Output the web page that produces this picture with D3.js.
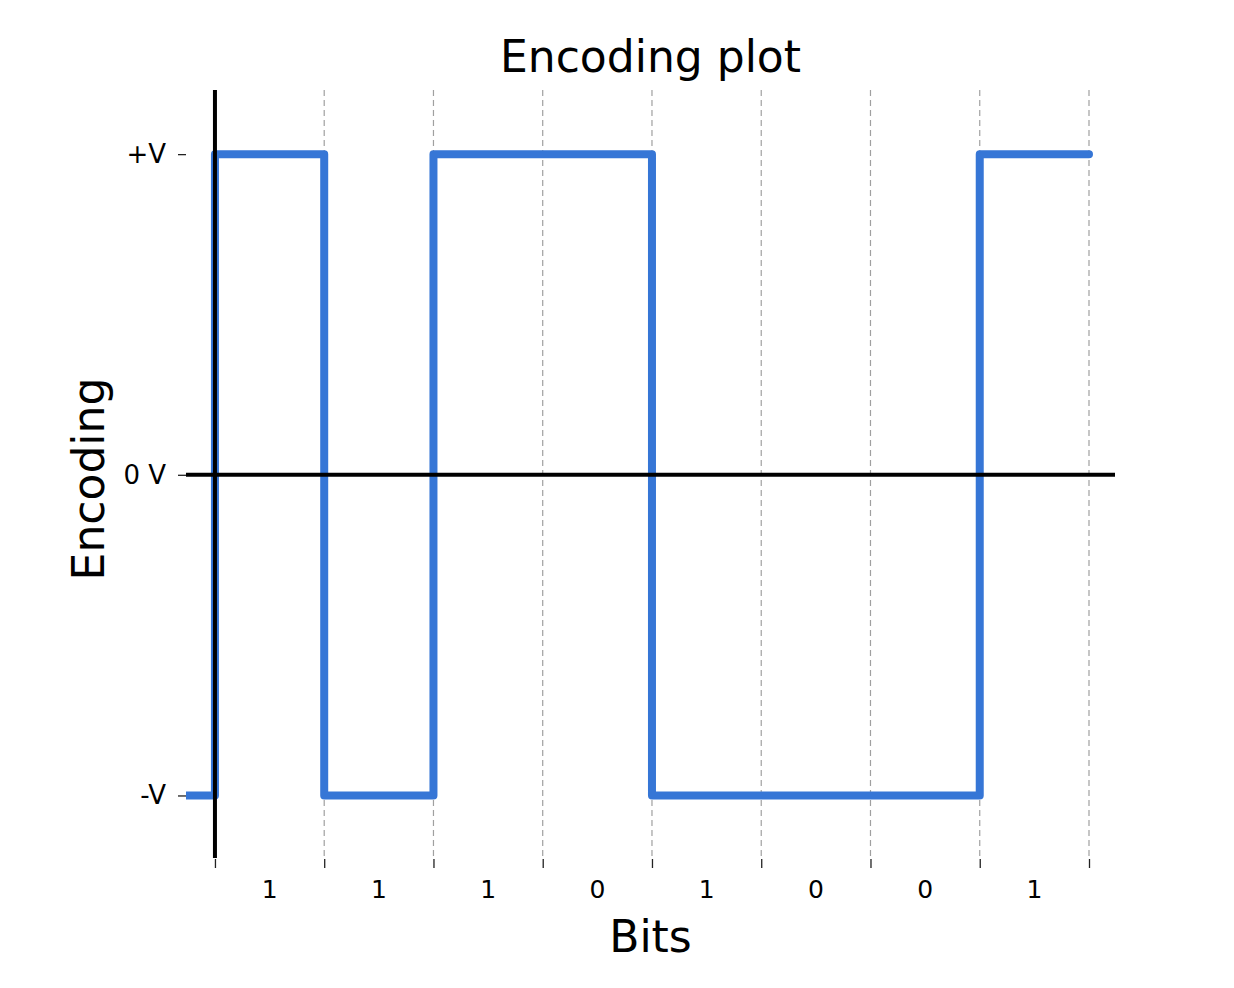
<!DOCTYPE html>
<html lang="en">
<head>
    <meta charset="UTF-8">
    <title>Encoding plot</title>
    <script src="https://d3js.org/d3.v7.min.js"></script>
    <style>
        body { margin: 0; background: white; }
        text { font-family: "DejaVu Sans", sans-serif; fill: #000; }
    </style>
</head>
<body>
    <div id="chart"></div>
    <script>
        const width = 1234;
        const height = 988;

        // bits and the voltage level drawn for each bit
        const bits = [1, 1, 1, 0, 1, 0, 0, 1];
        const levels = [1, -1, 1, 1, -1, -1, -1, 1];
        const startLevel = -1;
        const yTickValues = [1, 0, -1];
        const yTickLabels = ["+V", "0 V", "-V"];

        const margin = {left: 186, right: 1234 - 1115, top: 90, bottom: 988 - 858};

        const svg = d3.select("#chart")
            .append("svg")
            .attr("width", width)
            .attr("height", height);

        const x = d3.scaleLinear()
            .domain([-0.265, bits.length + 0.238])
            .range([margin.left, width - margin.right]);

        const y = d3.scaleLinear()
            .domain([-1.195, 1.2])
            .range([height - margin.bottom, margin.top]);

        svg.append("clipPath")
            .attr("id", "clip")
            .append("rect")
            .attr("x", margin.left)
            .attr("y", margin.top)
            .attr("width", width - margin.left - margin.right)
            .attr("height", height - margin.top - margin.bottom);

        // dashed grid at bit boundaries
        svg.append("g")
            .selectAll("line")
            .data(d3.range(1, bits.length + 1))
            .enter().append("line")
            .attr("x1", d => x(d))
            .attr("x2", d => x(d))
            .attr("y1", margin.top)
            .attr("y2", height - margin.bottom)
            .attr("stroke", "#a0a0a0")
            .attr("stroke-width", 1.2)
            .attr("stroke-dasharray", "6,4");

        // signal
        const points = [{x: x.domain()[0], v: startLevel}];
        levels.forEach((v, i) => points.push({x: i, v: v}));
        points.push({x: bits.length, v: levels[levels.length - 1]});

        const line = d3.line()
            .x(d => x(d.x))
            .y(d => y(d.v))
            .curve(d3.curveStepAfter);

        svg.append("path")
            .datum(points)
            .attr("clip-path", "url(#clip)")
            .attr("d", line)
            .attr("fill", "none")
            .attr("stroke", "#3676d6")
            .attr("stroke-width", 8)
            .attr("stroke-linejoin", "round")
            .attr("stroke-linecap", "round");

        // zero lines
        svg.append("line")
            .attr("x1", x(0)).attr("x2", x(0))
            .attr("y1", margin.top).attr("y2", height - margin.bottom)
            .attr("stroke", "#000").attr("stroke-width", 4);
        svg.append("line")
            .attr("x1", margin.left).attr("x2", width - margin.right)
            .attr("y1", y(0)).attr("y2", y(0))
            .attr("stroke", "#000").attr("stroke-width", 4);

        // y axis
        const yAxis = d3.axisLeft(y)
            .tickValues(yTickValues)
            .tickFormat((d, i) => yTickLabels[i])
            .tickSize(8)
            .tickPadding(12);
        const gy = svg.append("g")
            .attr("transform", `translate(${margin.left},0)`)
            .call(yAxis);
        gy.select(".domain").remove();
        gy.selectAll("text").style("font-size", "26px");
        gy.selectAll("line").attr("stroke", "#222").attr("stroke-width", 1.3);

        // x axis: marks at boundaries, bit labels in between
        const xAxis = d3.axisBottom(x)
            .tickValues(d3.range(0, bits.length + 1))
            .tickFormat("")
            .tickSize(9);
        const gx = svg.append("g")
            .attr("transform", `translate(0,${height - margin.bottom + 1})`)
            .call(xAxis);
        gx.select(".domain").remove();
        gx.selectAll("line").attr("stroke", "#222").attr("stroke-width", 1.3);

        svg.append("g")
            .selectAll("text")
            .data(bits)
            .enter().append("text")
            .attr("x", (d, i) => x(i + 0.5))
            .attr("y", 898)
            .attr("text-anchor", "middle")
            .style("font-size", "25px")
            .text(d => d);

        // titles
        svg.append("text")
            .attr("x", (margin.left + width - margin.right) / 2)
            .attr("y", 72)
            .attr("text-anchor", "middle")
            .style("font-size", "44px")
            .text("Encoding plot");

        svg.append("text")
            .attr("x", (margin.left + width - margin.right) / 2)
            .attr("y", 952)
            .attr("text-anchor", "middle")
            .style("font-size", "44px")
            .text("Bits");

        svg.append("text")
            .attr("transform", `translate(104,${(margin.top + height - margin.bottom) / 2 + 5}) rotate(-90)`)
            .attr("text-anchor", "middle")
            .style("font-size", "44px")
            .text("Encoding");
    </script>
</body>
</html>
